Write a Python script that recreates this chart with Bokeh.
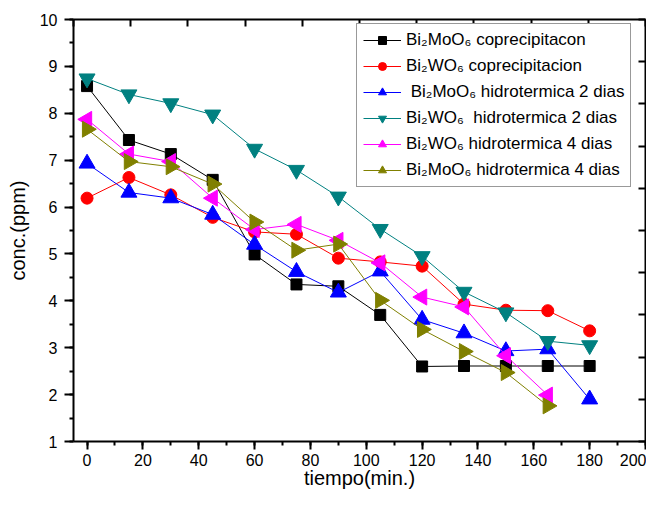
from bokeh.plotting import figure
from bokeh.models import (Range1d, LinearAxis, Legend, LegendItem,
                          SingleIntervalTicker, CustomJSTickFormatter)
from bokeh.embed import file_html
from bokeh.resources import INLINE
import numpy as np

# ---------------- data ----------------
time = [0, 15, 30, 45, 60, 75, 90, 105, 120, 135, 150, 165, 180]
time_4d = [0, 15, 30, 45, 60, 75, 90, 105, 120, 135, 150, 165]

bi2moo6_coprec = [8.58, 7.43, 7.13, 6.58, 4.99, 4.35, 4.31, 3.70, 2.60, 2.61, 2.61, 2.61, 2.61]
bi2wo6_coprec = [6.19, 6.63, 6.26, 5.78, 5.47, 5.42, 4.91, 4.83, 4.74, 3.93, 3.80, 3.79, 3.36]
bi2moo6_hid2 = [6.93, 6.31, 6.19, 5.84, 5.20, 4.62, 4.18, 4.63, 3.60, 3.31, 2.93, 2.97, 1.90]
bi2wo6_hid2 = [8.74, 8.40, 8.21, 7.97, 7.24, 6.79, 6.22, 5.53, 4.95, 4.19, 3.75, 3.14, 3.05]
bi2wo6_hid4 = [7.87, 7.13, 6.97, 6.19, 5.52, 5.63, 5.29, 4.81, 4.08, 3.87, 2.83, 1.99]
bi2moo6_hid4 = [7.66, 6.97, 6.86, 6.49, 5.68, 5.08, 5.21, 4.01, 3.39, 2.92, 2.47, 1.76]

labels = [
    "Bi\u2082MoO\u2086 coprecipitacon",
    "Bi\u2082WO\u2086 coprecipitacion",
    " Bi\u2082MoO\u2086 hidrotermica 2 dias",
    "Bi\u2082WO\u2086\u00a0 hidrotermica 2 dias",
    "Bi\u2082WO\u2086 hidrotermica 4 dias",
    "Bi\u2082MoO\u2086 hidrotermica 4 dias",
]

FONT = "Liberation Sans"

p = figure(width=646, height=492, x_range=Range1d(-4.85, 200), y_range=Range1d(1, 10),
           output_backend="svg", toolbar_location=None,
           min_border_left=73, min_border_right=1, min_border_top=19, min_border_bottom=51,
           x_axis_label="tiempo(min.)", y_axis_label="conc.(ppm)")
p.outline_line_color = None
p.xgrid.visible = False
p.ygrid.visible = False
p.background_fill_color = "white"
p.border_fill_color = "white"

for ax in (p.xaxis[0], p.yaxis[0]):
    ax.axis_line_width = 2
    ax.major_tick_line_width = 2
    ax.minor_tick_line_width = 2
    ax.major_tick_in = 0
    ax.minor_tick_in = 0
    ax.major_label_text_font = FONT
    ax.major_label_text_font_size = "16px"
    ax.major_label_text_color = "black"
    ax.axis_label_text_font = FONT
    ax.axis_label_text_font_size = "20px"
    ax.axis_label_text_font_style = "normal"
    ax.axis_label_text_color = "black"
    ax.axis_line_color = "black"
    ax.major_tick_line_color = "black"
    ax.minor_tick_line_color = "black"

p.xaxis[0].ticker = SingleIntervalTicker(interval=20, num_minor_ticks=2)
p.xaxis[0].major_tick_out = 8
p.xaxis[0].minor_tick_out = 4
p.xaxis[0].major_label_standoff = 4
p.xaxis[0].axis_label_standoff = -2

p.yaxis[0].ticker = SingleIntervalTicker(interval=1, num_minor_ticks=2)
p.yaxis[0].major_tick_out = 9
p.yaxis[0].minor_tick_out = 4
p.yaxis[0].major_label_standoff = 7
p.yaxis[0].axis_label_standoff = 8

# mirrored frame axes (top & right)
p.extra_x_ranges = {"top": Range1d(0, 10)}
p.extra_y_ranges = {"right": Range1d(0, 10)}
common = dict(major_tick_in=7, major_tick_out=0, minor_tick_in=0, minor_tick_out=0,
              axis_line_width=2, major_tick_line_width=2, major_label_standoff=0,
              major_label_text_font_size="0px", axis_line_color="black",
              major_tick_line_color="black")
top_ax = LinearAxis(x_range_name="top", formatter=CustomJSTickFormatter(code="return ''"),
                    ticker=SingleIntervalTicker(interval=1, num_minor_ticks=0), **common)
right_ax = LinearAxis(y_range_name="right", formatter=CustomJSTickFormatter(code="return ''"),
                      ticker=SingleIntervalTicker(interval=1, num_minor_ticks=0), **common)
p.add_layout(top_ax, "above")
p.add_layout(right_ax, "right")

series = [
    (time, bi2moo6_coprec, "black", "square", 11, 0.0),
    (time, bi2wo6_coprec, "#FF0000", "circle", 12, 0.0),
    (time, bi2moo6_hid2, "#0000FF", "triangle", 16, 0.0),
    (time, bi2wo6_hid2, "#008080", "inverted_triangle", 16, 0.0),
    (time_4d, bi2wo6_hid4, "#FF00FF", "triangle", 16, np.pi / 2),
    (time_4d, bi2moo6_hid4, "#808000", "triangle", 16, -np.pi / 2),
]

items = []
for (xs, ys, col, mk, sz, ang), lab in zip(series, labels):
    r1 = p.line(xs, ys, line_color=col, line_width=1)
    r2 = p.scatter(xs, ys, marker=mk, size=sz, angle=ang, fill_color=col, line_color=col)
    items.append(LegendItem(label=lab, renderers=[r1, r2]))

legend = Legend(items=items, location=(283, 254))
legend.label_text_font = FONT
legend.label_text_font_size = "17px"
legend.label_text_color = "black"
legend.border_line_color = "#333333"
legend.border_line_width = 1
legend.background_fill_color = "white"
legend.background_fill_alpha = 1
legend.glyph_width = 38
legend.glyph_height = 20
legend.label_height = 20
legend.spacing = 6
legend.padding = 6
legend.margin = 0
legend.label_standoff = 5
p.add_layout(legend, "center")

open("out.html", "w").write(file_html(p, INLINE))
